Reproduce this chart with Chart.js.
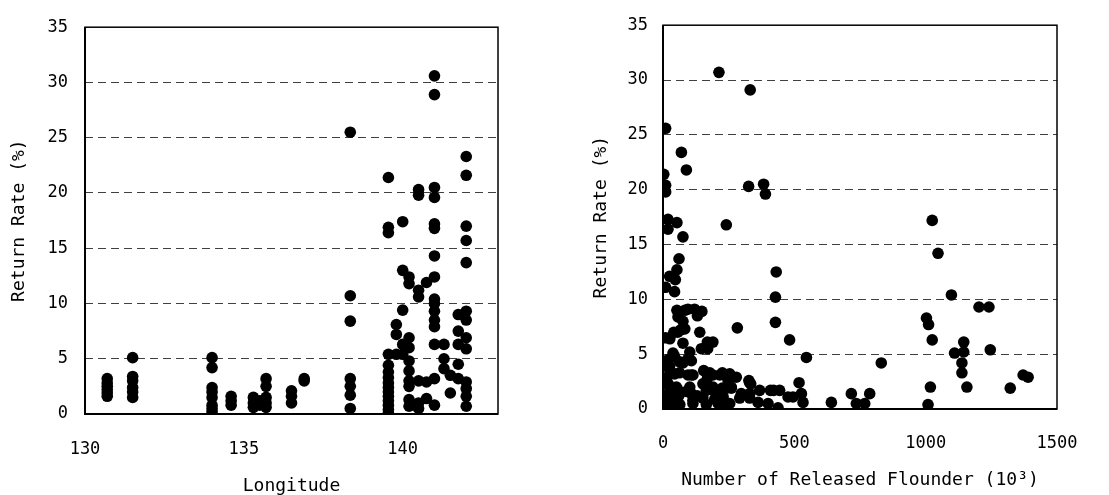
<!DOCTYPE html>
<html>
<head>
<meta charset="utf-8">
<script src="https://cdn.jsdelivr.net/npm/chart.js@4.4.0/dist/chart.umd.min.js"></script>
<style>
  body { margin: 0; background: #fff; }
  .wrap { position: absolute; top: 0; }
</style>
</head>
<body>
<div class="wrap" style="left:0;"><canvas id="lonChart" width="540" height="495"></canvas></div>
<div class="wrap" style="left:560px;"><canvas id="relChart" width="549" height="495"></canvas></div>
<script>
// left panel: longitude of release site vs return rate
const lonSites = [130.7, 131.5, 134.0, 134.6, 135.3, 135.5, 135.7, 136.5, 136.9, 138.35,
  139.55, 139.8, 140.0, 140.2, 140.5, 140.75, 141.0, 141.3, 141.5, 141.75, 142.0];
const lonRates = [
  [3.2, 2.8, 2.5, 2.2, 1.9, 1.6],
  [5.1, 3.4, 3.0, 2.4, 2.0, 1.5],
  [5.1, 4.2, 2.4, 2.0, 1.5, 0.8, 0.5, 0.2],
  [1.6, 1.2, 0.8],
  [1.5, 1.0, 0.6],
  [1.2, 0.8],
  [3.2, 2.5, 1.5, 1.0, 0.6],
  [2.1, 1.6, 1.0],
  [3.2, 3.0],
  [25.5, 10.7, 8.4, 3.2, 2.5, 1.7, 0.5],
  [21.4, 16.9, 16.4, 5.4, 4.4, 3.8, 3.3, 2.8, 2.4, 2.0, 1.6, 1.2, 0.8, 0.4, 0.1],
  [8.1, 7.2, 5.4],
  [17.4, 13.0, 9.4, 6.3, 5.4],
  [12.4, 11.8, 6.9, 6.0, 4.8, 3.9, 3.0, 2.5, 1.3, 0.7],
  [20.3, 19.8, 11.2, 10.6, 3.0, 1.0, 0.5],
  [11.9, 2.9, 1.4],
  [30.6, 28.9, 20.5, 19.6, 17.2, 16.8, 14.3, 12.4, 10.4, 10.0, 9.3, 8.5, 7.9, 6.3, 3.2, 0.8],
  [6.3, 5.0, 4.1],
  [3.5, 1.9],
  [9.0, 7.5, 6.3, 4.5, 3.2],
  [23.3, 21.6, 17.0, 15.7, 13.7, 9.3, 8.5, 6.9, 5.9, 2.9, 2.3, 1.6, 0.7]
];

// right panel: number released (x10^3) vs return rate
const relCount = [213, 332, 10, 70, 89, 3, 10, 10, 326, 383, 390, 19, 19, 53, 76, 241, 61, 53, 25, 47, 10, 44,
  431, 428, 428, 283, 482, 546,
  1025, 1047, 1098, 1203, 1241, 1003, 1011, 1025, 1110, 1145, 1145, 1138, 1138, 1157, 1246, 1322, 1371, 1390, 1018, 1009,
  831, 787, 717, 736, 768, 641, 518, 527, 533, 476, 495, 438, 409, 421, 362, 327, 334, 298, 292, 232,
  226, 247, 247, 226, 190, 169, 155, 197, 165, 169, 146, 140, 148, 131, 95, 53, 57, 66, 41, 10, 76, 102, 108, 63, 25, 63, 108, 38,
  83, 120, 76, 83, 56, 26, 190, 170,
  20, 44, 76, 95, 20, 44, 95, 114, 178, 216, 254, 279,
  20, 51, 102, 152, 190, 241, 260, 330, 368,
  19, 51, 108, 152, 197, 229, 260, 330, 330, 444,
  19, 64, 114, 165, 210, 254, 400,
  3, 5, 25, 40, 89, 60, 114, 130, 13, 15, 30, 45, 55];
const relRates = [30.7, 29.1, 25.6, 23.4, 21.8, 21.4, 20.4, 19.8, 20.3, 20.5, 19.6, 17.3, 16.4, 17.0, 15.7, 16.8, 13.7, 12.7, 12.1, 11.8, 11.1, 10.7,
  12.5, 10.2, 7.9, 7.4, 6.3, 4.7,
  17.2, 14.2, 10.4, 9.3, 9.3, 8.3, 7.7, 6.3, 5.1, 6.1, 5.2, 4.2, 3.3, 2.0, 5.4, 1.9, 3.1, 2.9, 2.0, 0.4,
  4.2, 1.4, 1.4, 0.5, 0.5, 0.6, 2.4, 1.4, 0.6, 1.1, 1.1, 0.1, 1.7, 1.7, 0.6, 2.6, 2.3, 1.4, 1.0, 0.5,
  3.3, 3.1, 2.7, 1.9, 3.1, 2.8, 3.5, 0.9, 1.7, 6.1, 5.5, 7.0, 8.9, 8.5, 9.1, 9.0, 8.4, 7.2, 7.0, 6.5, 6.0, 5.2, 4.4, 4.3, 3.9, 3.3, 3.1, 5.1,
  9.0, 9.1, 8.0, 7.3, 7.0, 6.4, 6.1, 5.5,
  4.5, 4.8, 4.2, 4.6, 3.8, 3.2, 3.1, 3.1, 3.3, 3.1, 3.2, 2.9,
  2.3, 2.0, 2.0, 2.3, 2.0, 1.9, 2.0, 2.4, 1.7,
  1.3, 1.0, 1.4, 1.0, 1.6, 1.1, 1.9, 1.4, 1.0, 1.7,
  0.5, 0.4, 0.5, 0.4, 0.5, 0.5, 0.5,
  1.3, 0.5, 0.2, 0.3, 1.6, 1.2, 0.8, 1.2, 2.3, 2.9, 1.8, 0.9, 1.8];

const rateTicks = [0, 5, 10, 15, 20, 25, 30, 35];

Chart.defaults.font.family = "'DejaVu Sans Mono', monospace";
Chart.defaults.font.size = 17;
Chart.defaults.color = '#000';

const lonPoints = [];
lonSites.forEach((x, i) => lonRates[i].forEach(y => lonPoints.push({ x, y })));
const relPoints = relCount.map((x, i) => ({ x, y: relRates[i] }));

// box around the plot area
const framePlugin = {
  id: 'frame',
  afterDraw(chart) {
    const { ctx, chartArea: { left, right, top, bottom } } = chart;
    ctx.save();
    ctx.strokeStyle = '#000';
    ctx.lineWidth = 1.5;
    ctx.strokeRect(left, top, right - left, bottom - top);
    ctx.lineWidth = 2;
    ctx.beginPath();
    ctx.moveTo(left, top);
    ctx.lineTo(left, bottom);
    ctx.lineTo(right, bottom);
    ctx.stroke();
    ctx.restore();
  }
};

function makeScatter(id, points, opts) {
  return new Chart(document.getElementById(id), {
    type: 'scatter',
    data: {
      datasets: [{
        data: points,
        backgroundColor: '#000',
        borderWidth: 0,
        pointRadius: 5.8,
        pointHoverRadius: 5.8
      }]
    },
    options: {
      responsive: false,
      animation: false,
      devicePixelRatio: 1,
      layout: { padding: opts.padding },
      plugins: { legend: { display: false }, tooltip: { enabled: false } },
      scales: {
        x: {
          type: 'linear',
          min: opts.xMin,
          max: opts.xMax,
          afterBuildTicks: s => { s.ticks = opts.xTicks.map(v => ({ value: v })); },
          afterFit: s => { s.height = opts.xHeight; },
          ticks: { padding: opts.xTickPad, maxRotation: 0, callback: v => String(v) },
          grid: { display: false, drawTicks: false },
          border: { display: false },
          title: { display: true, text: opts.xTitle, font: { size: 18 }, padding: { top: 0, bottom: opts.xTitlePad } }
        },
        y: {
          min: 0,
          max: 35,
          afterBuildTicks: s => { s.ticks = rateTicks.map(v => ({ value: v })); },
          afterFit: s => { s.width = opts.yWidth; },
          ticks: { padding: opts.yTickPad, callback: v => String(v) },
          grid: {
            drawTicks: false,
            lineWidth: 1,
            color: c => (c.tick && (c.tick.value === 0 || c.tick.value === 35)) ? 'rgba(0,0,0,0)' : '#404040'
          },
          border: { display: false, dash: [8, 5] },
          title: { display: true, text: 'Return Rate (%)', font: { size: 18 }, padding: { top: opts.yTitlePad, bottom: 0 } }
        }
      }
    },
    plugins: [framePlugin]
  });
}

makeScatter('lonChart', lonPoints, {
  padding: { left: 0, right: 42, top: 20, bottom: 0 },
  xMin: 130, xMax: 143, xTicks: [130, 135, 140],
  xHeight: 81, xTickPad: 25, xTitle: 'Longitude', xTitlePad: -2,
  yWidth: 85, yTickPad: 17, yTitlePad: 9
});

makeScatter('relChart', relPoints, {
  padding: { left: 0, right: 52, top: 22, bottom: 0 },
  xMin: 0, xMax: 1500, xTicks: [0, 500, 1000, 1500],
  xHeight: 86, xTickPad: 24, xTitle: 'Number of Released Flounder (10\u00b3)', xTitlePad: 4,
  yWidth: 103, yTickPad: 15, yTitlePad: 31
});
</script>
</body>
</html>
